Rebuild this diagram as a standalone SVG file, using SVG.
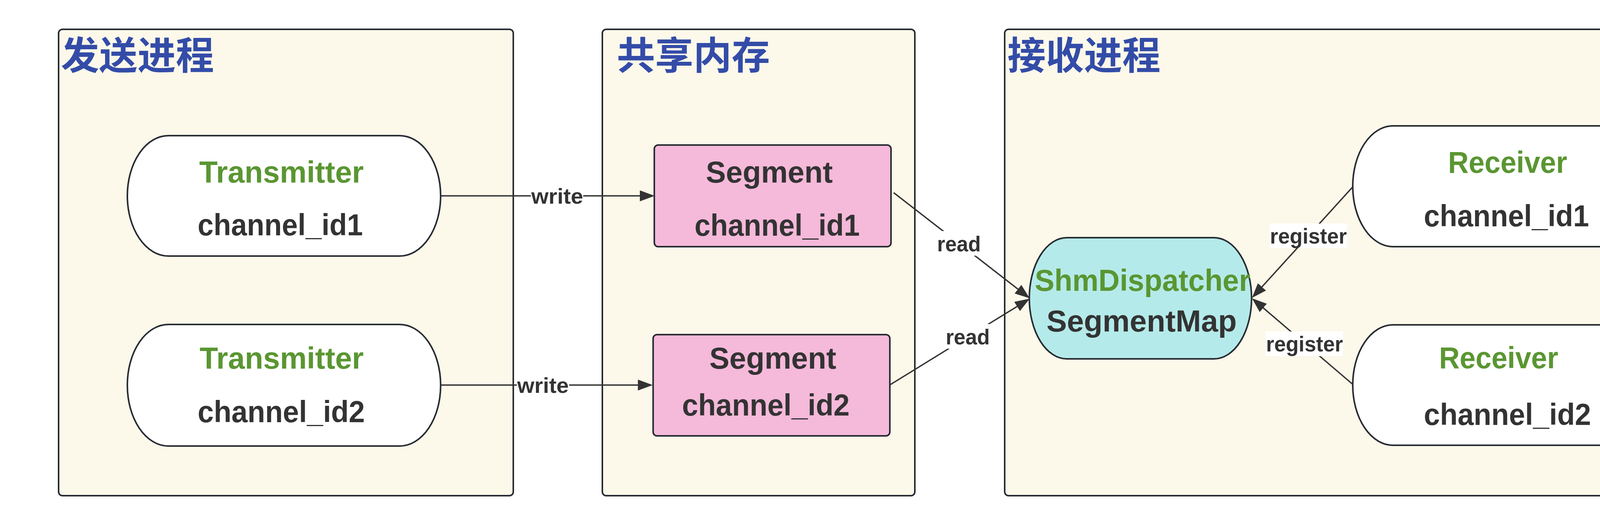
<svg xmlns="http://www.w3.org/2000/svg" width="4413" height="1343" viewBox="0 0 4413 1343">
<style>
.cont{fill:#fcf8ea;stroke:#272c33;stroke-width:4}
.node{stroke:#272c33;stroke-width:4}
.title{font-family:"Noto Sans CJK SC","Noto Sans",sans-serif;font-weight:bold;font-size:98px;fill:#334ca8}
.t{font-family:"Liberation Sans",Arial,sans-serif;font-weight:bold;font-size:77px}
.g{fill:#5a9632}
.d{fill:#333333}
.lbl{font-family:"Liberation Sans",Arial,sans-serif;font-weight:bold;font-size:55px;fill:#333333}
.edge{stroke:#333333;stroke-width:3.5;fill:none}
.lbg{fill:#ffffff}
</style>
<defs>
<marker id="arr" viewBox="0 0 38 28" refX="2" refY="14" markerWidth="38" markerHeight="28" markerUnits="userSpaceOnUse" orient="auto">
<path d="M0,0 L38,14 L0,28 z" fill="#333333"/>
</marker>
</defs>
<rect width="4413" height="1343" fill="#ffffff"/>
<g id="sender">
<rect class="cont" x="150" y="75" width="1164" height="1193" rx="10"/>
<text class="title" x="156" y="177">发送进程</text>
</g>
<g id="shm">
<rect class="cont" x="1542" y="75" width="800" height="1193" rx="10"/>
<text class="title" x="1579" y="177">共享内存</text>
</g>
<g id="receiver">
<rect class="cont" x="2572" y="75" width="1766" height="1193" rx="10"/>
<text class="title" x="2579" y="177">接收进程</text>
</g>
<g id="connectors">
<line class="edge" x1="1128" y1="501" x2="1640" y2="501" marker-end="url(#arr)"/>
<line class="edge" x1="1128" y1="985" x2="1635" y2="985" marker-end="url(#arr)"/>
<line class="edge" x1="2288" y1="493" x2="2607.6" y2="740.9" marker-end="url(#arr)"/>
<line class="edge" x1="2279" y1="984" x2="2605.4" y2="782.9" marker-end="url(#arr)"/>
<line class="edge" x1="3464" y1="477" x2="3229.2" y2="735.4" marker-end="url(#arr)"/>
<line class="edge" x1="3464" y1="984" x2="3232.4" y2="786.4" marker-end="url(#arr)"/>
<rect class="lbg" x="1359" y="478" width="134" height="50"/>
<text class="lbl" x="1360" y="521" textLength="133" lengthAdjust="spacingAndGlyphs">write</text>
<rect class="lbg" x="1323" y="962" width="134" height="50"/>
<text class="lbl" x="1324" y="1005" textLength="132" lengthAdjust="spacingAndGlyphs">write</text>
<rect class="lbg" x="2397" y="591" width="116" height="63"/>
<text class="lbl" x="2399" y="643" textLength="112" lengthAdjust="spacingAndGlyphs">read</text>
<rect class="lbg" x="2419" y="829" width="117" height="63"/>
<text class="lbl" x="2421" y="881" textLength="113" lengthAdjust="spacingAndGlyphs">read</text>
<rect class="lbg" x="3250" y="572" width="198" height="62"/>
<text class="lbl" x="3251" y="623" textLength="197" lengthAdjust="spacingAndGlyphs">register</text>
<rect class="lbg" x="3240" y="848" width="198" height="63"/>
<text class="lbl" x="3241" y="899" textLength="197" lengthAdjust="spacingAndGlyphs">register</text>
</g>
<g id="transmitter1">
<rect class="node" fill="#ffffff" x="326" y="347" width="802" height="308" rx="105" ry="154"/>
<text class="t g" x="510" y="467" textLength="421" lengthAdjust="spacingAndGlyphs">Transmitter</text>
<text class="t d" x="506" y="602" textLength="423" lengthAdjust="spacingAndGlyphs">channel_id1</text>
</g>
<g id="transmitter2">
<rect class="node" fill="#ffffff" x="326" y="830" width="802" height="311" rx="105" ry="155"/>
<text class="t g" x="511" y="943" textLength="420" lengthAdjust="spacingAndGlyphs">Transmitter</text>
<text class="t d" x="506" y="1080" textLength="428" lengthAdjust="spacingAndGlyphs">channel_id2</text>
</g>
<g id="segment1">
<rect class="node" fill="#f5b9da" x="1675" y="371" width="606" height="260" rx="10"/>
<text class="t d" x="1807" y="467" textLength="325" lengthAdjust="spacingAndGlyphs">Segment</text>
<text class="t d" x="1778" y="603" textLength="423" lengthAdjust="spacingAndGlyphs">channel_id1</text>
</g>
<g id="segment2">
<rect class="node" fill="#f5b9da" x="1672" y="856" width="606" height="259" rx="10"/>
<text class="t d" x="1816" y="943" textLength="325" lengthAdjust="spacingAndGlyphs">Segment</text>
<text class="t d" x="1746" y="1063" textLength="429" lengthAdjust="spacingAndGlyphs">channel_id2</text>
</g>
<g id="dispatcher">
<rect class="node" fill="#b5eaea" x="2635" y="608" width="569" height="310" rx="96" ry="155"/>
<text class="t g" x="2649" y="744" textLength="552" lengthAdjust="spacingAndGlyphs">ShmDispatcher</text>
<text class="t d" x="2679" y="848" textLength="487" lengthAdjust="spacingAndGlyphs">SegmentMap</text>
</g>
<g id="receiver1">
<rect class="node" fill="#ffffff" x="3463" y="322" width="802" height="309" rx="103" ry="154.5"/>
<text class="t g" x="3707" y="442" textLength="305" lengthAdjust="spacingAndGlyphs">Receiver</text>
<text class="t d" x="3645" y="579" textLength="423" lengthAdjust="spacingAndGlyphs">channel_id1</text>
</g>
<g id="receiver2">
<rect class="node" fill="#ffffff" x="3463" y="831" width="802" height="308" rx="103" ry="154"/>
<text class="t g" x="3684" y="942" textLength="305" lengthAdjust="spacingAndGlyphs">Receiver</text>
<text class="t d" x="3645" y="1087" textLength="428" lengthAdjust="spacingAndGlyphs">channel_id2</text>
</g>
</svg>
